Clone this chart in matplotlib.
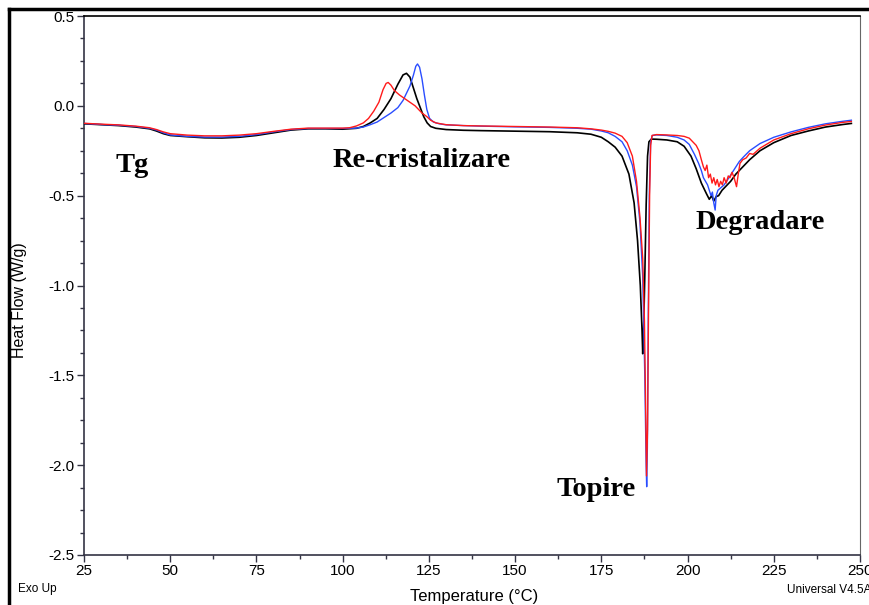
import matplotlib
matplotlib.use("Agg")
import matplotlib.pyplot as plt
from matplotlib.ticker import MultipleLocator
from matplotlib.lines import Line2D

# DSC heat-flow traces (temperature in °C, heat flow in W/g)
temp_black = [25, 30, 35, 40, 44, 46, 48, 50, 55, 60, 65, 70, 75, 80, 85, 90, 95, 100,
              104, 106, 108, 110, 112, 114, 116, 117.5, 118.5, 119.5, 120.5, 121.5,
              122.5, 123.5, 124.5, 125.5, 127, 130, 135, 140, 150, 160, 168, 172, 175,
              177, 179, 181, 183, 184.5, 185.5, 186.3, 186.8, 187.0, 187.2, 187.6,
              188.0, 188.4, 188.8, 189.5, 191, 194, 197, 199, 201, 202.5, 204, 205,
              205.5, 206.3, 207, 207.6, 208.3, 209, 210, 211, 212.5, 214, 216, 218,
              221, 225, 230, 235, 240, 245, 247.5]
hf_black = [-0.100, -0.105, -0.110, -0.118, -0.128, -0.140, -0.155, -0.165, -0.172,
            -0.178, -0.179, -0.175, -0.165, -0.150, -0.135, -0.128, -0.128, -0.130,
            -0.125, -0.115, -0.095, -0.070, -0.020, 0.040, 0.120, 0.172, 0.181, 0.160,
            0.100, 0.040, -0.010, -0.060, -0.095, -0.115, -0.125, -0.132, -0.136,
            -0.138, -0.141, -0.144, -0.150, -0.158, -0.175, -0.200, -0.230, -0.280,
            -0.380, -0.540, -0.750, -1.000, -1.250, -1.380, -1.300, -0.950, -0.550,
            -0.280, -0.200, -0.185, -0.186, -0.190, -0.200, -0.225, -0.280, -0.350,
            -0.430, -0.470, -0.490, -0.520, -0.500, -0.530, -0.505, -0.500, -0.470,
            -0.450, -0.420, -0.380, -0.340, -0.300, -0.250, -0.205, -0.165, -0.140,
            -0.118, -0.104, -0.098]

temp_blue = [25, 30, 35, 40, 44, 46, 48, 50, 55, 60, 65, 70, 75, 80, 85, 90, 95, 100,
             104, 106, 108, 110, 112, 114, 116, 117.5, 118.5, 119.5, 120.5, 121.2,
             121.7, 122.3, 123, 123.7, 124.4, 125.2, 126.3, 128, 130, 135, 140, 150,
             160, 168, 172, 175, 177, 179, 181, 182.5, 184, 185.2, 186.2, 187, 187.6,
             188.0, 188.15, 188.35, 188.6, 188.9, 189.3, 189.8, 191, 194, 197, 199,
             200.5, 202, 203.2, 204, 204.6, 205.2, 205.8, 206.3, 206.8, 207.2, 207.6,
             208, 208.3, 208.8, 209.4, 210, 210.6, 211.3, 212, 213, 214, 215, 216.2,
             218, 221, 225, 230, 235, 240, 245, 247.5]
hf_blue = [-0.098, -0.104, -0.108, -0.115, -0.125, -0.135, -0.150, -0.162, -0.170,
           -0.174, -0.174, -0.170, -0.160, -0.145, -0.132, -0.126, -0.126, -0.126,
           -0.124, -0.118, -0.105, -0.090, -0.065, -0.040, -0.010, 0.030, 0.070,
           0.110, 0.170, 0.220, 0.233, 0.215, 0.150, 0.060, -0.020, -0.070, -0.090,
           -0.100, -0.106, -0.110, -0.113, -0.117, -0.120, -0.125, -0.130, -0.140,
           -0.150, -0.170, -0.200, -0.250, -0.330, -0.450, -0.650, -0.950, -1.500,
           -2.000, -2.120, -1.900, -1.200, -0.500, -0.200, -0.165, -0.162, -0.165,
           -0.175, -0.190, -0.215, -0.270, -0.320, -0.360, -0.400, -0.420, -0.440,
           -0.470, -0.500, -0.480, -0.540, -0.580, -0.500, -0.470, -0.460, -0.450,
           -0.440, -0.420, -0.400, -0.370, -0.340, -0.310, -0.285, -0.250, -0.210,
           -0.175, -0.145, -0.120, -0.100, -0.086, -0.080]

temp_red = [25, 30, 35, 40, 44, 46, 48, 50, 55, 60, 65, 70, 75, 80, 85, 90, 95, 100,
            102, 104, 106, 107.5, 109, 110.5, 111.7, 112.6, 113.2, 114, 115, 116.5,
            118, 119.5, 121, 122, 123, 124.4, 125.5, 127, 130, 135, 140, 150, 160,
            168, 172, 175, 177, 179, 181, 182.5, 184, 185.2, 186.2, 187, 187.5, 187.9,
            188.1, 188.4, 188.7, 189.0, 189.3, 189.7, 191, 194, 197, 199, 200.5,
            201.5, 202.5, 203.3, 204, 204.6, 205.1, 205.6, 206.1, 206.6, 207.1, 207.6,
            208.1, 208.6, 209.1, 209.6, 210.1, 210.6, 211.2, 211.8, 212.3, 212.9,
            213.5, 214.2, 214.7, 215.2, 216, 217, 218, 219, 221, 225, 230, 235, 240,
            245, 247.5]
hf_red = [-0.097, -0.102, -0.106, -0.113, -0.122, -0.132, -0.145, -0.155, -0.163,
          -0.167, -0.167, -0.163, -0.155, -0.142, -0.130, -0.124, -0.124, -0.124,
          -0.122, -0.112, -0.095, -0.070, -0.030, 0.020, 0.090, 0.125, 0.130, 0.115,
          0.085, 0.060, 0.040, 0.020, 0.000, -0.020, -0.040, -0.060, -0.080, -0.095,
          -0.105, -0.110, -0.112, -0.115, -0.118, -0.122, -0.128, -0.135, -0.142,
          -0.152, -0.170, -0.205, -0.280, -0.420, -0.620, -0.850, -1.200, -1.750,
          -2.060, -1.800, -1.100, -0.500, -0.220, -0.165, -0.160, -0.162, -0.165,
          -0.170, -0.180, -0.200, -0.220, -0.250, -0.300, -0.340, -0.360, -0.330,
          -0.400, -0.380, -0.430, -0.400, -0.440, -0.410, -0.450, -0.420, -0.440,
          -0.400, -0.430, -0.390, -0.400, -0.370, -0.400, -0.450, -0.380, -0.320,
          -0.300, -0.290, -0.265, -0.270, -0.236, -0.190, -0.155, -0.128, -0.107,
          -0.092, -0.087]

x_ticks = [25, 50, 75, 100, 125, 150, 175, 200, 225, 250]
y_ticks = [0.5, 0.0, -0.5, -1.0, -1.5, -2.0, -2.5]

W, H = 870, 605
fig = plt.figure(figsize=(W / 100, H / 100), dpi=100)
ax = fig.add_axes([84 / W, 1 - 555 / H, (860 - 84) / W, (555 - 16) / H])

sans = ["Liberation Sans", "DejaVu Sans"]
serif = ["Liberation Serif", "DejaVu Serif"]

ax.plot(temp_black, hf_black, color="black", lw=1.2, zorder=3)
ax.plot(temp_blue, hf_blue, color="#2a4dff", lw=1.0, zorder=4)
ax.plot(temp_red, hf_red, color="#ff1a1a", lw=1.0, zorder=5)

ax.set_xlim(25, 250)
ax.set_ylim(-2.5, 0.5)
ax.set_xticks(x_ticks)
ax.set_yticks(y_ticks)
ax.xaxis.set_minor_locator(MultipleLocator(12.5))
ax.yaxis.set_minor_locator(MultipleLocator(0.125))
ax.set_xticklabels([str(v) for v in x_ticks], family=sans, fontsize=11)
ax.set_yticklabels([f"{v:.1f}" for v in y_ticks], family=sans, fontsize=11)
ax.tick_params(axis="both", which="major", direction="out", length=5, width=1,
               color="#333344", pad=1.5)
ax.tick_params(axis="both", which="minor", direction="out", length=3, width=1,
               color="#333344")

for side in ("left", "bottom"):
    ax.spines[side].set_color("#333344")
    ax.spines[side].set_linewidth(1.2)
ax.spines["top"].set_color("black")
ax.spines["top"].set_linewidth(1.2)
ax.spines["right"].set_color("#666666")
ax.spines["right"].set_linewidth(0.8)

# Event annotations
ann = dict(family=serif, fontweight="bold", fontsize=20.5, ha="left", va="baseline")
ax.text(34.0, -0.366, "Tg", **ann)
ax.text(97.0, -0.339, "Re-cristalizare", **ann)
ax.text(202.2, -0.685, "Degradare", **ann)
ax.text(162.1, -2.171, "Topire", **ann)

# Axis titles and footer
fig.text(20 / W, 1 - 300 / H, "Heat Flow (W/g)", rotation=90, ha="center",
         va="center", family=sans, fontsize=11.5)
fig.text(474 / W, 1 - 596 / H, "Temperature (°C)", ha="center", va="center",
         family=sans, fontsize=12)
fig.text(18 / W, 1 - 589 / H, "Exo Up", ha="left", va="center", family=sans,
         fontsize=8.5)
fig.text(787 / W, 1 - 590 / H, "Universal V4.5A TA Instruments", ha="left",
         va="center", family=sans, fontsize=8.5)

# Outer frame
fig.add_artist(Line2D([9 / W, 1.0], [1 - 9 / H, 1 - 9 / H], color="black", lw=2.5,
                      transform=fig.transFigure))
fig.add_artist(Line2D([9 / W, 9 / W], [0.0, 1 - 9 / H], color="black", lw=2.5,
                      transform=fig.transFigure))

fig.savefig("out.png", dpi=100)
